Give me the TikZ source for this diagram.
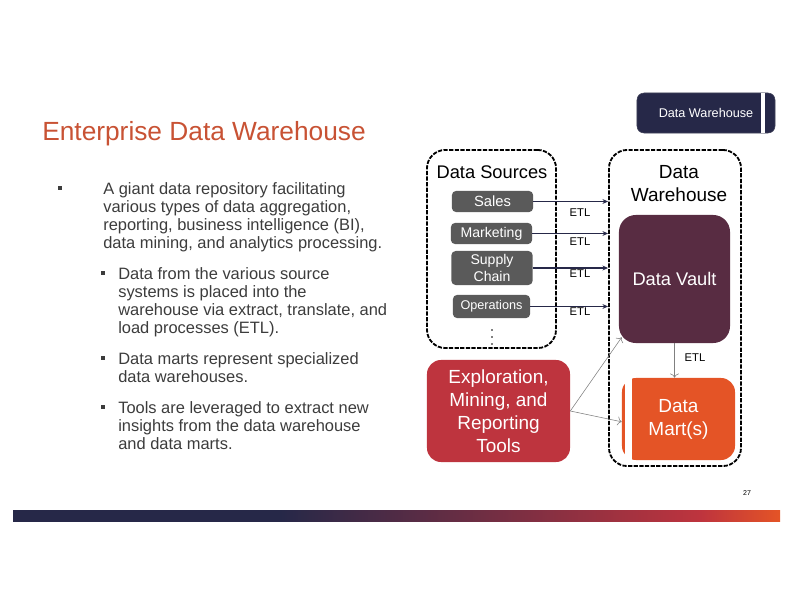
\documentclass[tikz,border=0pt]{standalone}
\usepackage{fontspec}
\setmainfont{Liberation Sans}
\usetikzlibrary{positioning,arrows.meta}
\definecolor{edwnavy}{RGB}{38,40,72}
\definecolor{edworange}{RGB}{228,84,38}
\definecolor{edwred}{RGB}{190,52,62}
\definecolor{edwplum}{RGB}{88,44,66}
\definecolor{edwgray}{RGB}{90,90,90}
\definecolor{edwtitle}{RGB}{200,82,52}
\definecolor{edwtext}{RGB}{60,60,60}
\pgfdeclarehorizontalshading{edwbar}{100bp}{color(0bp)=(edwnavy); color(25bp)=(edwnavy); color(42.4bp)=(edwnavy); color(69.8bp)=(edwred); color(75bp)=(edworange); color(100bp)=(edworange)}

\begin{document}
\begin{tikzpicture}[x=0.025cm,y=-0.025cm,
  group/.style={draw,line width=1.3pt,dash pattern=on 3pt off 1pt,rounded corners=13pt},
  srcbox/.style={fill=edwgray,text=white,rounded corners=3pt,minimum width=2.03cm,inner sep=0pt,align=center},
  bigbox/.style={text=white,inner sep=0pt,align=center,font=\fontsize{13.5}{16.3}\selectfont},
  etl/.style={inner sep=0pt,font=\fontsize{8}{9}\selectfont},
  feed/.style={draw=edwnavy,line width=1.1pt,-{Stealth[length=4pt,width=3.5pt]}},
  link/.style={draw=gray,line width=0.4pt,-{To[length=3pt]}},
  body/.style={anchor=base west,align=left,inner sep=0pt,text=edwtext,font=\fontsize{11.7}{12.8}\selectfont},
  sq/.style={fill=edwtext,inner sep=0pt,minimum size=3pt}]
\useasboundingbox (0,0) rectangle (792,612);

\node [anchor=base west,inner sep=0pt,text=edwtitle,font=\fontsize{18.7}{20}\selectfont] (title) at (42,140) {Enterprise Data Warehouse};
\node [fill=edwnavy,draw=edwnavy!70!gray,rounded corners=5pt,minimum width=3.45cm,minimum height=1cm,text=white,font=\fontsize{9}{10}\selectfont] (tab) at (706,113) {Data Warehouse};
\fill [white] ([xshift=-10]tab.north east) rectangle ([xshift=-7]tab.south east);

% bullet text, each node anchored on the baseline of its last line
\node [sq] (b1) at (60,188) {};
\node [body] (p1) at (103,248) {A giant data repository facilitating\\various types of data aggregation,\\reporting, business intelligence (BI),\\data mining, and analytics processing.};
\node [sq] (b2) at (103,273) {};
\node [body] (p2) at (118,333) {Data from the various source\\systems is placed into the\\warehouse via extract, translate, and\\load processes (ETL).};
\node [sq] (b3) at (103,358) {};
\node [body] (p3) at (118,382) {Data marts represent specialized\\data warehouses.};
\node [sq] (b4) at (103,407) {};
\node [body] (p4) at (118,449) {Tools are leveraged to extract new\\insights from the data warehouse\\and data marts.};

\node [group,minimum width=3.225cm,minimum height=4.95cm] (sources) at (491.5,249) {};
\node [font=\fontsize{13}{15}\selectfont] (srctitle) at (492,172) {Data Sources};
\node [srcbox,minimum height=0.53cm,font=\fontsize{10.5}{12}\selectfont] (sales) at (492.5,201.5) {Sales};
\node [srcbox,minimum height=0.53cm,font=\fontsize{10}{11}\selectfont] (marketing) at (491.5,233.5) {Marketing};
\node [srcbox,minimum height=0.85cm,font=\fontsize{10}{11.5}\selectfont] (supply) at (492,268) {Supply\\Chain};
\node [srcbox,minimum height=0.58cm,minimum width=1.93cm,font=\fontsize{9}{10}\selectfont] (operations) at (491.5,306.5) {Operations};
\coordinate (more) at (492,337);
\foreach \d in {-5,0,5}
  \fill ([yshift=\d]more) circle (0.6pt);

\node [group,minimum width=3.3cm,minimum height=7.9cm] (dw) at (675,308) {};
\node [align=center,font=\fontsize{13.5}{16.3}\selectfont] (dwtitle) at (679,184) {Data\\Warehouse};
\node [bigbox,fill=edwplum,rounded corners=12pt,minimum width=2.775cm,minimum height=3.2cm,font=\fontsize{13}{15}\selectfont] (vault) at (674.5,279) {Data Vault};
\node [bigbox,fill=edworange,rounded corners=10pt,minimum width=2.825cm,minimum height=2.05cm] (mart) at (678.5,419) {Data\\Mart(s)};
\fill [white] (625,376) rectangle (632,462);

\node [bigbox,fill=edwred,rounded corners=10pt,minimum width=3.575cm,minimum height=2.55cm] (explore) at (498.5,411) {Exploration,\\Mining, and\\Reporting\\Tools};

\draw [feed,line width=0.6pt] (sales.east) -- (sales.east -| dw.west);
\draw [feed] (marketing.east) -- (marketing.east -| dw.west);
\draw [feed] (supply.east) -- (supply.east -| dw.west);
\draw [feed] (operations.east) -- (operations.east -| dw.west);
\node [etl] (etl1) at (580,213) {ETL};
\node [etl] (etl2) at (580,242) {ETL};
\node [etl] (etl3) at (580,274) {ETL};
\node [etl] (etl4) at (580,312) {ETL};

\draw [link] (vault.south) -- (vault.south |- mart.north);
\node [etl] (etl5) at (695,358) {ETL};
\draw [link] (explore.east) -- ([shift={(3,-6)}]vault.south west);
\draw [link] (explore.east) -- ([yshift=-2]mart.west);

\node [inner sep=0pt,font=\fontsize{5}{6}\selectfont] (page) at (747,493) {27};
\shade [shading=edwbar] (13,510) rectangle (780,521);
\end{tikzpicture}
\end{document}
